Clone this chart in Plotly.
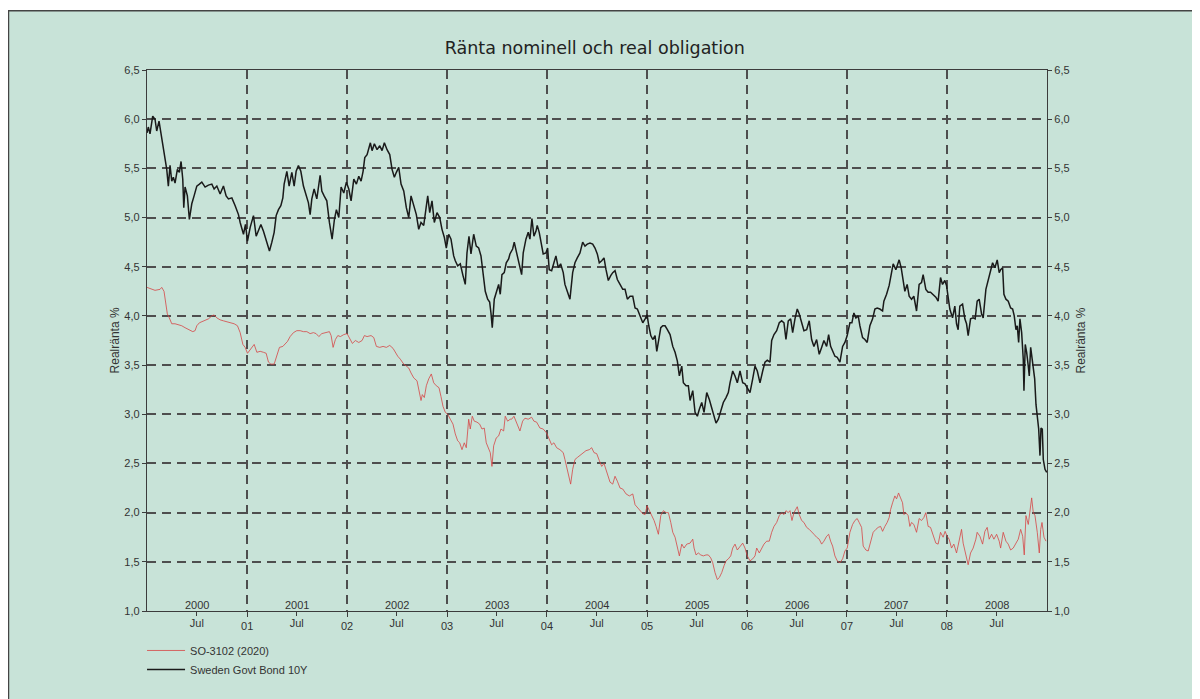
import pandas as pd
import plotly.graph_objects as go

# ---------------- data (decimal years, percent) ----------------
bond_t = [2000.000, 2000.013, 2000.030, 2000.057, 2000.080, 2000.097, 2000.120, 2000.147, 2000.170, 2000.197,
          2000.213, 2000.230, 2000.247, 2000.263, 2000.280, 2000.303, 2000.323, 2000.340, 2000.357, 2000.367,
          2000.380, 2000.403, 2000.423, 2000.447, 2000.470, 2000.497, 2000.523, 2000.547, 2000.580, 2000.613,
          2000.647, 2000.670, 2000.697, 2000.730, 2000.763, 2000.790, 2000.813, 2000.847, 2000.880, 2000.913,
          2000.930, 2000.963, 2000.983, 2001.003, 2001.030, 2001.063, 2001.090, 2001.113, 2001.137, 2001.163,
          2001.190, 2001.223, 2001.247, 2001.270, 2001.290, 2001.313, 2001.337, 2001.357, 2001.370, 2001.397,
          2001.420, 2001.447, 2001.470, 2001.490, 2001.513, 2001.537, 2001.563, 2001.590, 2001.613, 2001.630,
          2001.647, 2001.670, 2001.697, 2001.730, 2001.747, 2001.770, 2001.797, 2001.823,
          2001.850, 2001.873, 2001.893, 2001.917, 2001.940, 2001.967, 2001.993, 2002.017, 2002.040, 2002.067,
          2002.093, 2002.117, 2002.140, 2002.160, 2002.177, 2002.200, 2002.233, 2002.250, 2002.273, 2002.300,
          2002.327, 2002.350, 2002.373, 2002.400, 2002.427, 2002.450, 2002.473, 2002.493, 2002.517, 2002.540,
          2002.567, 2002.593, 2002.617, 2002.640, 2002.667, 2002.693, 2002.717, 2002.740, 2002.767, 2002.787,
          2002.807, 2002.827, 2002.850, 2002.873, 2002.900, 2002.927, 2002.950, 2002.973, 2002.993, 2003.017,
          2003.040, 2003.067, 2003.083, 2003.107, 2003.133, 2003.160, 2003.183, 2003.200, 2003.220, 2003.240,
          2003.267, 2003.293, 2003.317, 2003.340, 2003.360, 2003.383, 2003.407, 2003.427, 2003.440, 2003.453,
          2003.473, 2003.493, 2003.517, 2003.533, 2003.550, 2003.573, 2003.593, 2003.617,
          2003.630, 2003.657, 2003.673, 2003.697, 2003.723, 2003.747, 2003.763, 2003.790, 2003.813, 2003.830,
          2003.850, 2003.870, 2003.890, 2003.903, 2003.923, 2003.947, 2003.963, 2003.990, 2004.007, 2004.023,
          2004.047, 2004.070, 2004.090, 2004.113, 2004.137, 2004.163, 2004.180, 2004.203, 2004.230, 2004.257,
          2004.280, 2004.303, 2004.330, 2004.357, 2004.380, 2004.403, 2004.430, 2004.457, 2004.480, 2004.503,
          2004.523, 2004.547, 2004.570, 2004.590, 2004.613, 2004.637, 2004.657, 2004.680, 2004.703, 2004.730,
          2004.757, 2004.780, 2004.803, 2004.830, 2004.857, 2004.880, 2004.903, 2004.930, 2004.957, 2004.980,
          2005.000, 2005.017, 2005.037, 2005.057, 2005.080, 2005.097, 2005.117, 2005.137, 2005.157, 2005.180,
          2005.203, 2005.230, 2005.257, 2005.280, 2005.303, 2005.323, 2005.347, 2005.363, 2005.390, 2005.413,
          2005.430, 2005.457, 2005.480, 2005.503, 2005.523, 2005.547, 2005.570, 2005.597, 2005.623, 2005.647,
          2005.670, 2005.690, 2005.713, 2005.737, 2005.763, 2005.790, 2005.813, 2005.830, 2005.857, 2005.880,
          2005.903, 2005.930, 2005.957, 2005.980, 2006.003, 2006.030, 2006.057, 2006.080, 2006.103, 2006.130,
          2006.157, 2006.180, 2006.203, 2006.230, 2006.247, 2006.270, 2006.297, 2006.323, 2006.347, 2006.370,
          2006.390, 2006.413, 2006.437, 2006.457, 2006.480, 2006.503, 2006.523, 2006.547, 2006.570, 2006.597,
          2006.623, 2006.647, 2006.670, 2006.697, 2006.723, 2006.747, 2006.770, 2006.797, 2006.817, 2006.837,
          2006.857, 2006.880, 2006.903, 2006.930, 2006.957, 2006.980, 2007.003, 2007.030, 2007.050, 2007.070,
          2007.090, 2007.113, 2007.130, 2007.157, 2007.180, 2007.203, 2007.230, 2007.257, 2007.280, 2007.303,
          2007.330, 2007.357, 2007.370, 2007.397, 2007.423, 2007.447, 2007.463, 2007.490, 2007.503, 2007.523,
          2007.543, 2007.563, 2007.580, 2007.603, 2007.623, 2007.647, 2007.670, 2007.697, 2007.723, 2007.747,
          2007.763, 2007.790, 2007.813, 2007.837, 2007.863, 2007.890, 2007.913, 2007.937, 2007.957, 2007.980,
          2007.997, 2008.013, 2008.030, 2008.057, 2008.080, 2008.097, 2008.113, 2008.130, 2008.157, 2008.180,
          2008.197, 2008.213, 2008.237, 2008.263, 2008.283, 2008.303, 2008.323, 2008.347, 2008.363, 2008.390,
          2008.413, 2008.437, 2008.457, 2008.480, 2008.503, 2008.523, 2008.537, 2008.557, 2008.570, 2008.590,
          2008.613, 2008.637, 2008.657, 2008.673, 2008.690, 2008.703, 2008.717, 2008.730, 2008.747, 2008.763,
          2008.770, 2008.783, 2008.797, 2008.813, 2008.823, 2008.837, 2008.857, 2008.877, 2008.890, 2008.903,
          2008.917, 2008.930, 2008.940, 2008.953, 2008.963, 2008.980, 2008.997]
bond_v = [5.86, 5.92, 5.85, 6.03, 6.00, 5.88, 5.98, 5.81, 5.66, 5.49,
          5.32, 5.53, 5.37, 5.41, 5.35, 5.49, 5.46, 5.57, 5.39, 5.10,
          5.31, 5.22, 4.98, 5.14, 5.22, 5.32, 5.34, 5.36, 5.31, 5.33,
          5.34, 5.29, 5.32, 5.24, 5.32, 5.22, 5.19, 5.20, 5.12, 5.03,
          4.95, 4.83, 4.93, 4.76, 4.90, 5.02, 4.81, 4.86, 4.93, 4.86,
          4.76, 4.66, 4.75, 4.85, 5.02, 5.08, 5.12, 5.20, 5.34, 5.47,
          5.32, 5.46, 5.32, 5.47, 5.53, 5.47, 5.32, 5.24, 5.15, 5.03,
          5.19, 5.29, 5.19, 5.43, 5.27, 5.22, 5.17, 4.95,
          4.78, 4.98, 5.08, 5.00, 5.31, 5.25, 5.36, 5.29, 5.17, 5.39,
          5.34, 5.42, 5.37, 5.47, 5.61, 5.64, 5.76, 5.68, 5.75, 5.69,
          5.73, 5.68, 5.76, 5.69, 5.64, 5.49, 5.41, 5.46, 5.51, 5.34,
          5.27, 5.10, 5.00, 5.22, 5.12, 5.03, 4.88, 4.95, 4.92, 5.07,
          5.22, 5.05, 5.17, 4.95, 5.05, 5.00, 4.88, 4.80, 4.69, 4.83,
          4.78, 4.61, 4.56, 4.51, 4.53, 4.41, 4.32, 4.64, 4.81, 4.63,
          4.83, 4.71, 4.69, 4.61, 4.46, 4.25, 4.17, 4.14, 4.03, 3.88,
          4.17, 4.24, 4.32, 4.22, 4.42, 4.44, 4.54, 4.58,
          4.63, 4.68, 4.75, 4.64, 4.54, 4.42, 4.64, 4.78, 4.85, 4.78,
          4.99, 4.81, 4.86, 4.92, 4.85, 4.71, 4.63, 4.64, 4.69, 4.47,
          4.46, 4.54, 4.61, 4.49, 4.53, 4.44, 4.32, 4.25, 4.17, 4.44,
          4.54, 4.59, 4.64, 4.75, 4.71, 4.73, 4.74, 4.73, 4.69, 4.63,
          4.54, 4.56, 4.59, 4.47, 4.36, 4.41, 4.44, 4.46, 4.37, 4.32,
          4.27, 4.27, 4.17, 4.20, 4.20, 4.08, 4.07, 4.00, 3.93, 3.97,
          4.01, 3.90, 3.80, 3.76, 3.80, 3.64, 3.76, 3.88, 3.90, 3.90,
          3.86, 3.81, 3.69, 3.63, 3.54, 3.39, 3.49, 3.32, 3.29, 3.29,
          3.14, 3.24, 3.02, 2.98, 3.05, 3.12, 3.02, 3.22, 3.15, 3.07,
          2.98, 2.91, 2.95, 3.03, 3.12, 3.17, 3.22, 3.32, 3.44, 3.39,
          3.32, 3.44, 3.32, 3.31, 3.27, 3.22, 3.36, 3.49, 3.44, 3.32,
          3.44, 3.53, 3.55, 3.53, 3.75, 3.81, 3.85, 3.93, 3.95, 3.93,
          3.76, 3.95, 3.97, 3.83, 3.97, 4.07, 4.02, 3.92, 3.85, 3.86,
          3.95, 3.76, 3.69, 3.76, 3.61, 3.68, 3.75, 3.69, 3.81, 3.69,
          3.64, 3.59, 3.58, 3.53, 3.69, 3.73, 3.80, 3.93, 3.93, 4.03,
          3.98, 4.00, 3.90, 3.78, 3.76, 3.73, 3.90, 3.97, 4.07, 4.08,
          4.07, 4.05, 4.15, 4.22, 4.31, 4.44, 4.53, 4.47, 4.51, 4.57,
          4.49, 4.34, 4.25, 4.32, 4.20, 4.17, 4.20, 4.05, 4.32, 4.34,
          4.42, 4.27, 4.24, 4.24, 4.22, 4.19, 4.15, 4.39, 4.32, 4.36,
          4.31, 4.17, 4.07, 3.98, 4.10, 3.92, 3.86, 4.10, 4.12, 3.97,
          3.92, 3.80, 3.97, 3.98, 3.97, 4.15, 4.17, 4.02, 3.98, 4.27,
          4.36, 4.44, 4.54, 4.49, 4.57, 4.44, 4.47, 4.49, 4.22, 4.17,
          4.15, 4.08, 4.07, 4.00, 3.86, 3.90, 3.73, 3.97, 3.83, 3.56,
          3.24, 3.71, 3.63, 3.49, 3.39, 3.68, 3.53, 3.36, 3.10, 2.98,
          2.85, 2.58, 2.86, 2.85, 2.54, 2.44, 2.41]

real_t = [2000.000, 2000.030, 2000.080, 2000.130, 2000.147, 2000.170, 2000.190, 2000.203, 2000.223, 2000.247,
          2000.280, 2000.313, 2000.347, 2000.380, 2000.413, 2000.457, 2000.480, 2000.497, 2000.523, 2000.547,
          2000.580, 2000.613, 2000.647, 2000.670, 2000.697, 2000.730, 2000.763, 2000.797, 2000.837, 2000.870,
          2000.903, 2000.930, 2000.957, 2000.980, 2001.003, 2001.030, 2001.050, 2001.070, 2001.097, 2001.130,
          2001.163, 2001.190, 2001.213, 2001.237, 2001.270, 2001.297, 2001.323, 2001.357, 2001.380, 2001.403,
          2001.430, 2001.463, 2001.497, 2001.530, 2001.563, 2001.597, 2001.630, 2001.663, 2001.690, 2001.717,
          2001.747, 2001.780, 2001.823,
          2001.840, 2001.860, 2001.883, 2001.907, 2001.933, 2001.967, 2002.000, 2002.027, 2002.053, 2002.083,
          2002.117, 2002.150, 2002.173, 2002.200, 2002.240, 2002.267, 2002.293, 2002.327, 2002.360, 2002.393,
          2002.427, 2002.460, 2002.483, 2002.507, 2002.533, 2002.567, 2002.593, 2002.617, 2002.640, 2002.667,
          2002.700, 2002.720, 2002.740, 2002.753, 2002.773, 2002.793, 2002.817, 2002.843, 2002.867, 2002.893,
          2002.920, 2002.940, 2002.960, 2002.983, 2003.007, 2003.033, 2003.060, 2003.083, 2003.107, 2003.127,
          2003.150, 2003.173, 2003.193, 2003.217, 2003.233, 2003.253, 2003.273, 2003.300, 2003.327, 2003.350,
          2003.373, 2003.393, 2003.417, 2003.433, 2003.450, 2003.467, 2003.493, 2003.517, 2003.540, 2003.567,
          2003.583, 2003.607, 2003.633,
          2003.647, 2003.670, 2003.697, 2003.730, 2003.757, 2003.780, 2003.813, 2003.847, 2003.870, 2003.897,
          2003.930, 2003.963, 2003.997, 2004.023, 2004.047, 2004.070, 2004.097, 2004.130, 2004.163, 2004.180,
          2004.197, 2004.213, 2004.237, 2004.257, 2004.280, 2004.303, 2004.330, 2004.363, 2004.390, 2004.423,
          2004.447, 2004.470, 2004.497, 2004.523, 2004.547, 2004.570, 2004.597, 2004.630, 2004.657, 2004.680,
          2004.703, 2004.730, 2004.757, 2004.790, 2004.823, 2004.857, 2004.880, 2004.903, 2004.930, 2004.957,
          2004.980, 2005.000, 2005.023, 2005.047, 2005.070, 2005.090, 2005.113, 2005.137, 2005.163, 2005.190,
          2005.213, 2005.237, 2005.257, 2005.280, 2005.303, 2005.323, 2005.347, 2005.370, 2005.397, 2005.430,
          2005.457, 2005.470, 2005.490, 2005.513, 2005.537, 2005.563, 2005.590, 2005.613, 2005.637, 2005.657,
          2005.680, 2005.703, 2005.723, 2005.747, 2005.770, 2005.790, 2005.813, 2005.837, 2005.857, 2005.880,
          2005.903, 2005.930, 2005.957, 2005.980, 2006.003, 2006.030, 2006.057, 2006.080, 2006.097, 2006.123,
          2006.147, 2006.170, 2006.197, 2006.223, 2006.247, 2006.270, 2006.297, 2006.323, 2006.347, 2006.370,
          2006.390, 2006.413, 2006.430, 2006.450, 2006.470, 2006.490, 2006.503, 2006.523, 2006.547, 2006.570,
          2006.597, 2006.623, 2006.647, 2006.670, 2006.697, 2006.723, 2006.747, 2006.770, 2006.797, 2006.817,
          2006.837, 2006.857, 2006.880, 2006.903, 2006.930, 2006.957, 2006.980, 2007.003, 2007.030, 2007.057,
          2007.080, 2007.103, 2007.123, 2007.147, 2007.163, 2007.190,
          2007.213, 2007.237, 2007.263, 2007.290, 2007.313, 2007.337, 2007.357, 2007.380, 2007.403, 2007.423,
          2007.437, 2007.457, 2007.480, 2007.497, 2007.517, 2007.537, 2007.557, 2007.570, 2007.590, 2007.613,
          2007.630, 2007.647, 2007.670, 2007.697, 2007.723, 2007.747, 2007.770, 2007.790, 2007.813, 2007.837,
          2007.863, 2007.890, 2007.913, 2007.937, 2007.963, 2007.983, 2008.003, 2008.023, 2008.047, 2008.070,
          2008.097, 2008.123, 2008.147, 2008.163, 2008.190, 2008.213, 2008.237, 2008.263, 2008.290, 2008.303,
          2008.330, 2008.357, 2008.380, 2008.403, 2008.423, 2008.447, 2008.470, 2008.497, 2008.523, 2008.537,
          2008.563, 2008.590, 2008.613, 2008.637, 2008.663, 2008.690, 2008.713, 2008.737, 2008.757, 2008.773,
          2008.790, 2008.813, 2008.830, 2008.847, 2008.863, 2008.880, 2008.903, 2008.923, 2008.937, 2008.950,
          2008.970, 2008.990]
real_v = [4.29, 4.28, 4.26, 4.27, 4.29, 4.25, 4.08, 4.02, 3.98, 3.92,
          3.92, 3.91, 3.90, 3.88, 3.86, 3.84, 3.85, 3.90, 3.93, 3.94,
          3.95, 3.97, 4.00, 4.01, 3.98, 3.96, 3.95, 3.94, 3.93, 3.92,
          3.90, 3.83, 3.71, 3.68, 3.62, 3.66, 3.69, 3.71, 3.63, 3.64,
          3.63, 3.62, 3.53, 3.51, 3.51, 3.59, 3.68, 3.69, 3.71, 3.74,
          3.79, 3.83, 3.85, 3.85, 3.84, 3.84, 3.82, 3.83, 3.82, 3.79,
          3.82, 3.83, 3.84,
          3.80, 3.68, 3.76, 3.80, 3.79, 3.81, 3.82, 3.76, 3.72, 3.75,
          3.73, 3.75, 3.80, 3.79, 3.80, 3.78, 3.69, 3.68, 3.69, 3.68,
          3.70, 3.67, 3.63, 3.59, 3.56, 3.51, 3.49, 3.47, 3.42, 3.37,
          3.34, 3.25, 3.14, 3.20, 3.17, 3.29, 3.36, 3.41, 3.32, 3.29,
          3.27, 3.18, 3.08, 3.02, 3.00, 2.95, 2.90, 2.80, 2.73, 2.71,
          2.64, 2.71, 2.66, 2.95, 2.85, 2.98, 2.93, 2.92, 2.90, 2.85,
          2.86, 2.71, 2.64, 2.61, 2.47, 2.68, 2.76, 2.78, 2.85, 2.83,
          2.98, 2.93, 2.95,
          2.95, 2.98, 2.92, 2.83, 2.93, 2.96, 2.95, 2.97, 2.93, 2.92,
          2.86, 2.85, 2.81, 2.75, 2.69, 2.71, 2.66, 2.64, 2.61, 2.54,
          2.47, 2.41, 2.29, 2.44, 2.54, 2.56, 2.58, 2.61, 2.63, 2.64,
          2.66, 2.61, 2.60, 2.53, 2.47, 2.50, 2.41, 2.31, 2.29, 2.37,
          2.32, 2.25, 2.24, 2.19, 2.17, 2.19, 2.08, 2.05, 2.02, 1.99,
          1.98, 2.07, 2.02, 1.97, 1.92, 1.86, 1.78, 1.97, 2.02, 2.00,
          2.00, 1.90, 1.80, 1.75, 1.66, 1.56, 1.68, 1.64, 1.68, 1.69,
          1.73, 1.64, 1.57, 1.59, 1.57, 1.56, 1.57, 1.57, 1.54, 1.49,
          1.39, 1.32, 1.34, 1.39, 1.46, 1.51, 1.53, 1.56, 1.64, 1.68,
          1.62, 1.66, 1.69, 1.64, 1.56, 1.51, 1.53, 1.56, 1.64, 1.59,
          1.64, 1.68, 1.71, 1.71, 1.80, 1.86, 1.90, 1.97, 2.00, 1.98,
          2.02, 2.00, 2.02, 1.92, 2.00, 2.03, 2.06, 1.98, 1.92, 1.90,
          1.85, 1.83, 1.80, 1.78, 1.75, 1.73, 1.68, 1.71, 1.76, 1.78,
          1.71, 1.66, 1.56, 1.51, 1.49, 1.53, 1.61, 1.64, 1.80, 1.88,
          1.92, 1.94, 1.90, 1.85, 1.66, 1.62,
          1.61, 1.69, 1.80, 1.83, 1.85, 1.86, 1.81, 1.86, 1.90, 1.95,
          2.03, 2.10, 2.17, 2.14, 2.20, 2.15, 2.10, 1.98, 2.00, 1.97,
          1.86, 1.90, 1.88, 1.80, 1.94, 1.92, 1.95, 2.00, 1.86, 1.85,
          1.76, 1.69, 1.68, 1.80, 1.75, 1.81, 1.76, 1.73, 1.64, 1.68,
          1.59, 1.73, 1.83, 1.69, 1.57, 1.47, 1.59, 1.64, 1.73, 1.80,
          1.76, 1.68, 1.81, 1.85, 1.73, 1.78, 1.73, 1.78, 1.71, 1.64,
          1.80, 1.71, 1.68, 1.62, 1.64, 1.69, 1.73, 1.83, 1.76, 1.57,
          1.97, 1.88, 2.03, 2.15, 2.00, 1.97, 1.80, 1.59, 1.83, 1.90,
          1.75, 1.71]

years = [2000, 2001, 2002, 2003, 2004, 2005, 2006, 2007, 2008]
year_short = ["01", "02", "03", "04", "05", "06", "07", "08"]
y_ticks = [1.0, 1.5, 2.0, 2.5, 3.0, 3.5, 4.0, 4.5, 5.0, 5.5, 6.0, 6.5]

title_text = "Ränta nominell och real obligation"
y_title = "Realränta %"
name_real = "SO-3102 (2020)"
name_bond = "Sweden Govt Bond 10Y"


def to_date(t):
    y = int(t)
    start = pd.Timestamp(year=y, month=1, day=1)
    end = pd.Timestamp(year=y + 1, month=1, day=1)
    return start + (end - start) * (t - y)


bond_x = [to_date(t) for t in bond_t]
real_x = [to_date(t) for t in real_t]

year_starts = [pd.Timestamp(year=y, month=1, day=1) for y in years[1:]]
mid_years = [pd.Timestamp(year=y, month=7, day=1) for y in years]
x_range = [pd.Timestamp(year=years[0], month=1, day=1), pd.Timestamp(year=years[-1] + 1, month=1, day=1)]

BG = "#C8E3D8"
AX = "#3c3c3c"
GRID = "#4e4e4e"
TXT = "#333333"
FONT = "Liberation Sans, Arial, sans-serif"

fig = go.Figure()
fig.add_trace(go.Scatter(x=real_x, y=real_v, mode="lines", name=name_real,
                         line=dict(color="#D64545", width=0.8)))
fig.add_trace(go.Scatter(x=bond_x, y=bond_v, mode="lines", name=name_bond,
                         line=dict(color="#1a1a1a", width=1.5)))
# invisible helper traces so the extra axes are drawn
fig.add_trace(go.Scatter(x=[x_range[0]], y=[y_ticks[0]], yaxis="y2", mode="markers",
                         marker=dict(opacity=0), showlegend=False, hoverinfo="skip"))
fig.add_trace(go.Scatter(x=[x_range[0]], y=[y_ticks[0]], xaxis="x2", mode="markers",
                         marker=dict(opacity=0), showlegend=False, hoverinfo="skip"))

tick_font = dict(family=FONT, size=11, color=TXT)

fig.update_layout(
    width=1200, height=699,
    margin=dict(l=139, r=161, t=62, b=96, autoexpand=False),
    paper_bgcolor="white",
    plot_bgcolor=BG,
    font=dict(family=FONT, size=11, color=TXT),
    title=dict(text=title_text, x=0.489, xanchor="center", y=0.943, yanchor="middle",
               font=dict(family="Comic Sans MS, DejaVu Sans, sans-serif", size=17.5, color="#222222")),
    showlegend=True,
    legend=dict(xref="container", yref="container", x=0.1117, xanchor="left", y=0.1016, yanchor="top",
                bgcolor="rgba(0,0,0,0)", font=dict(family=FONT, size=11, color=TXT),
                tracegroupgap=0, itemwidth=38),
    xaxis=dict(type="date", range=x_range, tickmode="array", tickvals=year_starts, ticktext=year_short,
               showgrid=True, gridcolor=GRID, griddash="9px,6px", gridwidth=1.5,
               showline=True, linecolor=AX, linewidth=1.3, mirror=True,
               ticks="outside", ticklen=5, tickcolor=AX, tickfont=tick_font, zeroline=False,
               minor=dict(tickmode="array", tickvals=mid_years, ticks="outside", ticklen=4,
                          tickcolor=AX, showgrid=False)),
    xaxis2=dict(type="date", range=x_range, overlaying="x", side="bottom", anchor="y",
                tickmode="array", tickvals=mid_years, ticktext=["Jul"] * len(mid_years),
                showgrid=False, showline=False, ticks="outside", ticklen=2,
                tickcolor="rgba(0,0,0,0)", tickfont=tick_font, zeroline=False),
    yaxis=dict(range=[y_ticks[0], y_ticks[-1]], tickmode="array", tickvals=y_ticks,
               tickformat=".1f", showgrid=True, gridcolor=GRID, griddash="9px,6px", gridwidth=1.5,
               showline=True, linecolor=AX, linewidth=1.3, ticks="outside", ticklen=4, tickcolor=AX,
               tickfont=tick_font, zeroline=False),
    yaxis2=dict(range=[y_ticks[0], y_ticks[-1]], tickmode="array", tickvals=y_ticks,
                tickformat=".1f", overlaying="y", side="right", showgrid=False,
                showline=True, linecolor=AX, linewidth=1.3, ticks="outside", ticklen=4, tickcolor=AX,
                tickfont=tick_font, zeroline=False),
    separators=",.",
)

# year labels sitting just above the bottom axis, centred on each year
for y, mid in zip(years, mid_years):
    fig.add_annotation(x=mid, xref="x", y=0, yref="paper", yanchor="bottom", yshift=-2,
                       text=str(y), showarrow=False, font=tick_font)

# axis titles on both sides
fig.add_annotation(x=-0.0356, xref="paper", xanchor="center", y=0.5, yref="paper", yanchor="middle",
                   text=y_title, textangle=-90, showarrow=False,
                   font=dict(family=FONT, size=12, color=TXT))
fig.add_annotation(x=1.0367, xref="paper", xanchor="center", y=0.5, yref="paper", yanchor="middle",
                   text=y_title, textangle=-90, showarrow=False,
                   font=dict(family=FONT, size=12, color=TXT))

# outer panel frame (paper coordinates)
fig.add_shape(type="rect", xref="paper", yref="paper",
              x0=-0.1539, x1=1.25, y0=-0.25, y1=1.1096,
              line=dict(color="#444444", width=1.5), fillcolor=BG, layer="below")

fig.write_html("out.html")
